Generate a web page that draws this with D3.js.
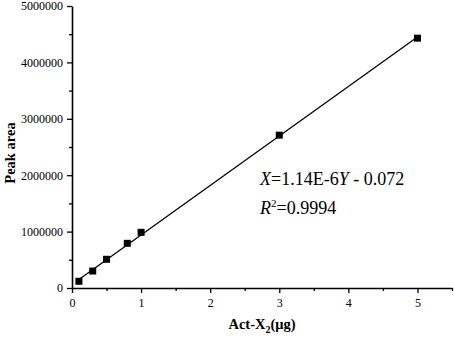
<!DOCTYPE html>
<html>
<head>
<meta charset="utf-8">
<script src="https://cdn.jsdelivr.net/npm/d3@7"></script>
<style>
  body { margin: 0; background: #fff; }
  svg text { font-family: "Liberation Serif", "Times New Roman", serif; fill: #000; }
</style>
</head>
<body>
<svg id="chart" width="454" height="337"></svg>
<script>
// values
var amounts   = [0.1, 0.3, 0.5, 0.8, 1.0, 3.0, 5.0]
var peakAreas = [119000, 301000, 509000, 792000, 987000, 2710000, 4430000]
var xTicks = [0, 1, 2, 3, 4, 5]
var yTicks = [0, 1000000, 2000000, 3000000, 4000000, 5000000]
var slope = 1.14e-6, intercept = -0.072
var fitRange = [0.07, 5.0]

var svg = d3.select("#chart"),
    margin = {top: 6, right: 2, bottom: 49, left: 72},
    width  = +svg.attr("width") - margin.left - margin.right,
    height = +svg.attr("height") - margin.top - margin.bottom;

var x = d3.scaleLinear().domain([0, 5.5]).range([0, width]);
var y = d3.scaleLinear().domain([0, 5000000]).range([height, 0]);

var g = svg.append("g")
  .attr("transform", "translate(" + margin.left + "," + margin.top + ")");

// minor ticks first
g.append("g")
  .attr("transform", "translate(0," + height + ")")
  .call(d3.axisBottom(x).tickValues(d3.range(0.5, 5.6, 1)).tickSize(3).tickFormat(""))
  .call(function(a){ a.select(".domain").remove(); });
g.append("g")
  .call(d3.axisLeft(y).tickValues(d3.range(500000, 5000000, 1000000)).tickSize(3).tickFormat(""))
  .call(function(a){ a.select(".domain").remove(); });

var xAxis = g.append("g")
  .attr("class", "axis axis--x")
  .attr("transform", "translate(0," + height + ")")
  .call(d3.axisBottom(x).tickValues(xTicks).tickSize(5).tickSizeOuter(0).tickFormat(d3.format("d")).tickPadding(5));

var yAxis = g.append("g")
  .attr("class", "axis axis--y")
  .call(d3.axisLeft(y).tickValues(yTicks).tickSize(5).tickSizeOuter(0).tickFormat(d3.format("d")).tickPadding(4));

g.selectAll(".tick line").attr("stroke", "#000").attr("stroke-width", 1.3);
g.selectAll(".domain").attr("stroke", "#000").attr("stroke-width", 1.6);
g.selectAll(".axis text")
  .attr("fill", "#000")
  .style("font-size", "12px")
  .style("font-family", "Liberation Serif, serif");

// fitted line
var fit = fitRange.map(function(v){ return {x: v, y: (v - intercept) / slope}; });
g.append("path")
  .datum(fit)
  .attr("fill", "none")
  .attr("stroke", "#000")
  .attr("stroke-width", 1.3)
  .attr("d", d3.line().x(function(d){ return x(d.x); }).y(function(d){ return y(d.y); }));

// points
var pts = amounts.map(function(a, i){ return {x: a, y: peakAreas[i]}; });
g.selectAll(".pt")
  .data(pts)
  .enter().append("rect")
    .attr("class", "pt")
    .attr("x", function(d){ return x(d.x) - 3.5; })
    .attr("y", function(d){ return y(d.y) - 3.5; })
    .attr("width", 7)
    .attr("height", 7)
    .attr("fill", "#000");

// equation
var eq = svg.append("text").attr("x", 260).attr("y", 185).style("font-size", "18px");
eq.append("tspan").style("font-style", "italic").text("X");
eq.append("tspan").text("=1.14E-6");
eq.append("tspan").style("font-style", "italic").text("Y");
eq.append("tspan").text(" - 0.072");

var r2 = svg.append("text").attr("x", 260).attr("y", 214).style("font-size", "18px");
r2.append("tspan").style("font-style", "italic").text("R");
r2.append("tspan").attr("dy", -7).style("font-size", "11px").text("2");
r2.append("tspan").attr("dy", 7).text("=0.9994");

// axis titles
var xt = svg.append("text")
  .attr("x", 262)
  .attr("y", 329)
  .attr("text-anchor", "middle")
  .style("font-size", "14.5px")
  .style("font-weight", "bold");
xt.append("tspan").text("Act-X");
xt.append("tspan").attr("dy", 4).style("font-size", "10px").text("2");
xt.append("tspan").attr("dy", -4).text("(μg)");

svg.append("text")
  .attr("transform", "translate(15,153) rotate(-90)")
  .attr("text-anchor", "middle")
  .style("font-size", "14.5px")
  .style("font-weight", "bold")
  .text("Peak area");
</script>
</body>
</html>
